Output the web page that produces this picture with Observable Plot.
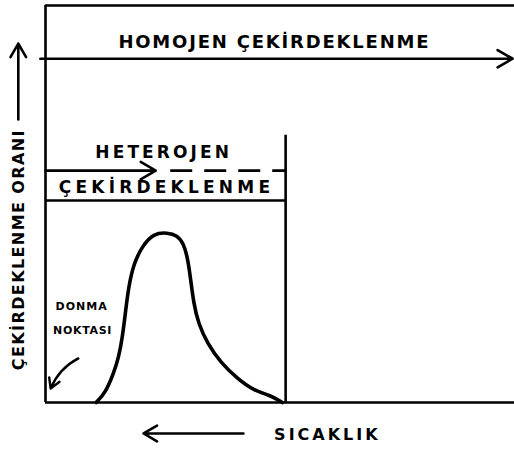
<!DOCTYPE html>
<html><head><meta charset="utf-8">
<script src="https://cdn.jsdelivr.net/npm/d3@7"></script>
<script src="https://cdn.jsdelivr.net/npm/@observablehq/plot@0.6"></script>
<style>
body{margin:0;background:#fff}
svg text{font-family:"DejaVu Sans",sans-serif;font-weight:bold}
</style>
</head><body><div id="chart"></div>
<script>
// Sıcaklık (x, 0–100) ve çekirdeklenme oranı (y, 0–100) eksenlerinde okunmuş değerler
const curveTemp = [10.8, 12.8, 14.5, 15.6, 16.4, 17.1, 17.7, 18.8, 20.7, 23.0, 26.0, 28.1, 29.4, 30.3, 30.9, 31.6, 32.6, 34.5, 37.3, 40.9, 44.4, 48.0, 50.5];
const curveRate = [0.0, 2.5, 7.3, 11.3, 16.4, 23.2, 29.0, 35.0, 39.5, 42.6, 42.8, 42.1, 40.1, 36.5, 31.5, 24.9, 19.9, 14.9, 10.1, 6.0, 3.0, 1.8, 0.0];

// Çerçeve çizgileri
const vLineX = [0, 51.2];          // y ekseni, donma noktası sınırı
const vLineTop = [100, 67.3];
const hLineY = [0, 100, 50.9];     // x ekseni, üst kenar, heterojen kutu alt çizgisi
const hLineEnd = [100, 100, 51.2];
const dashY = [58.4], dashStart = [26.7], dashEnd = [51.2];

// Oklar
const arrowX1 = [-1.1, 0, 7.0, -5.8, 42.2];
const arrowY1 = [86.6, 58.4, 11.1, 71.3, -7.8];
const arrowX2 = [99.6, 23.5, 1.1, -5.8, 20.9];
const arrowY2 = [86.6, 58.4, 3.5, 90.4, -7.8];

// Metinler
const labelText = ["HOMOJEN ÇEKİRDEKLENME", "HETEROJEN", "ÇEKİRDEKLENME", "SICAKLIK"];
const labelX = [48.8, 25.2, 25.8, 60.1];
const labelY = [90.7, 63.0, 54.2, -8.1];
const noteText = ["DONMA", "NOKTASI"];
const noteX = [7.7, 7.9];
const noteY = [24.1, 18.1];
const yLabel = ["ÇEKİRDEKLENME ORANI"];
const yLabelX = [-5.6], yLabelY = [38.5];

const curve = curveTemp.map((t, i) => ({t, r: curveRate[i]}));
const vLines = vLineX.map((x, i) => ({x, top: vLineTop[i]}));
const hLines = hLineY.map((y, i) => ({y, end: hLineEnd[i]}));
const dashes = dashY.map((y, i) => ({y, a: dashStart[i], b: dashEnd[i]}));
const arrows = arrowX1.map((x1, i) => ({x1, y1: arrowY1[i], x2: arrowX2[i], y2: arrowY2[i]}));
const labels = labelText.map((s, i) => ({s, x: labelX[i], y: labelY[i]}));
const notes = noteText.map((s, i) => ({s, x: noteX[i], y: noteY[i]}));
const ylab = yLabel.map((s, i) => ({s, x: yLabelX[i], y: yLabelY[i]}));

const sw = 2.6;
const chart = Plot.plot({
  width: 514, height: 450,
  marginLeft: 45, marginRight: 0, marginTop: 5, marginBottom: 48,
  x: {domain: [0, 100], axis: null},
  y: {domain: [0, 100], axis: null},
  marks: [
    Plot.ruleX(vLines, {x: "x", y1: 0, y2: "top", stroke: "black", strokeWidth: sw}),
    Plot.ruleY(hLines, {y: "y", x1: 0, x2: "end", stroke: "black", strokeWidth: sw}),
    Plot.ruleY(dashes, {y: "y", x1: "a", x2: "b", stroke: "black", strokeWidth: sw, strokeDasharray: "22,12"}),
    Plot.arrow(arrows.slice(0, 2), {x1: "x1", y1: "y1", x2: "x2", y2: "y2", stroke: "black", strokeWidth: sw, headLength: 10}),
    Plot.arrow(arrows.slice(2, 3), {x1: "x1", y1: "y1", x2: "x2", y2: "y2", stroke: "black", strokeWidth: 2.4, headLength: 7, bend: -20}),
    Plot.arrow(arrows.slice(3), {x1: "x1", y1: "y1", x2: "x2", y2: "y2", stroke: "black", strokeWidth: sw, headLength: 9}),
    Plot.line(curve, {x: "t", y: "r", curve: "basis", stroke: "black", strokeWidth: 3.6}),
    Plot.text(labels, {x: "x", y: "y", text: "s", fontSize: 17, fill: "black"}),
    Plot.text(notes, {x: "x", y: "y", text: "s", fontSize: 11, fill: "black"}),
    Plot.text(ylab, {x: "x", y: "y", text: "s", rotate: -90, fontSize: 16, fill: "black"})
  ]
});
document.getElementById("chart").append(chart);

// Harf aralıkları ve boyutlar (el yazısı görünümüne yaklaşmak için)
const textStyle = {
  "HOMOJEN ÇEKİRDEKLENME": [18, 1.8],
  "HETEROJEN": [17, 3.1],
  "ÇEKİRDEKLENME": [17, 4.2],
  "SICAKLIK": [16, 3],
  "DONMA": [11, 1],
  "NOKTASI": [11, 0.7],
  "ÇEKİRDEKLENME ORANI": [16, 1.4]
};
d3.select(chart).selectAll("text").each(function () {
  const st = textStyle[this.textContent];
  if (st) {
    this.setAttribute("font-size", st[0]);
    this.style.letterSpacing = st[1] + "px";
  }
});
</script>
</body></html>
